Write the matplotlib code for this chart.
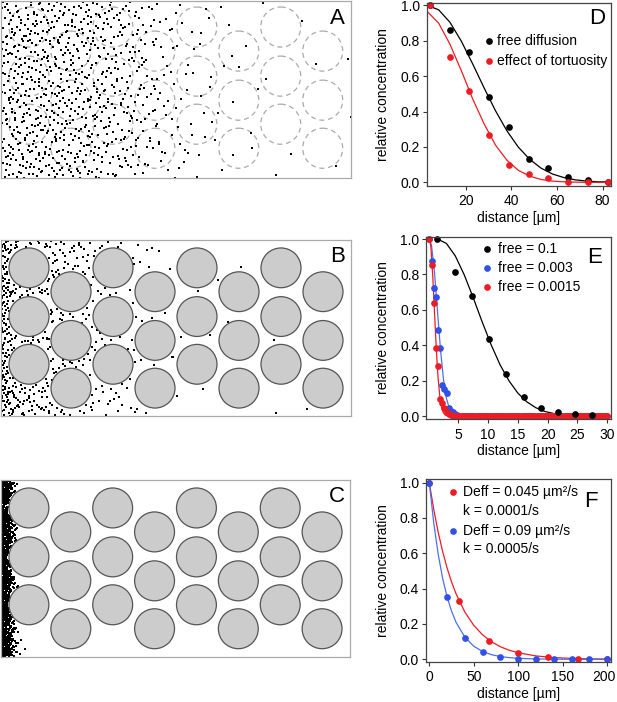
import numpy as np
import matplotlib
matplotlib.use('Agg')
import matplotlib.pyplot as plt
from matplotlib.patches import Circle
from matplotlib.transforms import Affine2D, ScaledTranslation

plt.rcParams['font.family'] = ['Liberation Sans', 'DejaVu Sans']

# ---------------- data ----------------
# obstacle lattice (pixel units inside each 350 x 177 box)
col_x = [28, 70, 112, 154, 196, 238, 280, 322]
rows_odd = [28, 77, 125]
rows_even = [52, 101, 149]
obst_r = 20

densA_x = [0, 50, 90, 120, 140, 160, 180, 200, 220, 240, 270, 350]
densA_v = [34, 32, 28, 22, 16, 10, 6, 4, 2.5, 1.2, 0.6, 0.3]
densB_x = [0, 6, 15, 40, 70, 100, 125, 150, 170, 200, 230, 350]
densB_v = [120, 80, 50, 38, 28, 18, 11, 6, 3, 1.5, 0.5, 0.1]
densC_x = [0, 3, 6, 9, 12, 15, 18, 22, 25]
densC_v = [600, 600, 520, 380, 200, 70, 20, 3, 0]

# panel D
d_x = [4.0, 12.9, 21.5, 30.1, 38.9, 47.6, 56.2, 65.0, 73.7, 82.3]
d_free = [1.0, 0.862, 0.738, 0.483, 0.311, 0.130, 0.079, 0.030, 0.015, 0.004]
d_tort = [1.0, 0.709, 0.515, 0.268, 0.098, 0.045, 0.025, 0.0, 0.0, 0.0]
d_curve_x = [3, 8, 13, 18, 23, 28, 33, 38, 43, 48, 53, 58, 63, 68, 73, 78, 83]
d_free_fit = [1.0, 0.975, 0.904, 0.797, 0.668, 0.533, 0.404, 0.291, 0.199,
              0.130, 0.080, 0.047, 0.027, 0.014, 0.007, 0.003, 0.002]
d_tort_fit = [0.965, 0.90, 0.78, 0.63, 0.47, 0.33, 0.21, 0.125, 0.068,
              0.035, 0.016, 0.007, 0.003, 0.001, 0.0, 0.0, 0.0]

# panel E
e_black_x = [1.48, 4.44, 7.29, 10.14, 13.05, 15.96, 18.8, 21.77, 24.6, 27.5]
e_black_y = [1.0, 0.815, 0.676, 0.433, 0.237, 0.105, 0.043, 0.024, 0.013, 0.008]
e_black_fit_x = [1.5, 3, 4.5, 6, 7.5, 9, 10.5, 12, 13.5, 15, 16.5, 18, 19.5,
                 21, 22.5, 24, 25.5, 27, 28.5, 30]
e_black_fit_y = [1.0, 0.975, 0.904, 0.797, 0.668, 0.532, 0.403, 0.290, 0.199,
                 0.129, 0.080, 0.047, 0.026, 0.014, 0.007, 0.004, 0.002, 0.001,
                 0.0005, 0.0]
e_step = 0.36
e_n = 84
e_grid = [round(0.14 + e_step * i, 3) for i in range(e_n)]
e_blue_head = [1.0, 0.876, 0.721, 0.674, 0.486, 0.386, 0.175, 0.153, 0.132,
               0.043, 0.028, 0.024, 0.01, 0.004]
e_red_head = [1.0, 0.853, 0.636, 0.382, 0.284, 0.094, 0.072, 0.043, 0.020,
              0.010, 0.003]
e_blue_y = e_blue_head + [0.0] * (e_n - len(e_blue_head))
e_red_y = e_red_head + [0.0] * (e_n - len(e_red_head))
e_blue_fit_x = [0.14, 0.5, 1.0, 1.5, 2.0, 2.5, 3.0, 3.5, 4.0, 4.5, 5.0, 6.0, 30.0]
e_blue_fit_y = [1.0, 0.964, 0.812, 0.594, 0.378, 0.209, 0.100, 0.042, 0.015,
                0.005, 0.001, 0.0, 0.0]
e_red_fit_x = [0.14, 0.4, 0.7, 1.0, 1.3, 1.6, 1.9, 2.2, 2.5, 2.8, 3.1, 3.5, 30.0]
e_red_fit_y = [1.0, 0.953, 0.798, 0.588, 0.381, 0.216, 0.108, 0.047, 0.018,
               0.006, 0.002, 0.0, 0.0]

# panel F
f_red_x = [0, 33.3, 66.7, 100, 133.3, 166.7, 200]
f_red_y = [1.0, 0.332, 0.104, 0.034, 0.013, 0.004, 0.001]
f_blue_x = [0, 20, 40, 60, 80, 100, 120, 140, 160, 180, 200]
f_blue_y = [1.0, 0.353, 0.123, 0.043, 0.013, 0.004, 0.001, 0.0, 0.0, 0.0, 0.0]
f_red_fit_x = [0, 5, 10, 15, 20, 25, 30, 40, 50, 60, 70, 80, 90, 100, 120, 140,
               160, 180, 200]
f_red_fit_y = [1.0, 0.848, 0.719, 0.61, 0.517, 0.438, 0.372, 0.267, 0.192,
               0.138, 0.099, 0.071, 0.051, 0.037, 0.019, 0.0098, 0.005, 0.0026,
               0.0014]
f_blue_fit_x = [0, 5, 10, 15, 20, 25, 30, 40, 50, 60, 70, 80, 90, 100, 120, 140,
                160, 200]
f_blue_fit_y = [1.0, 0.771, 0.595, 0.458, 0.353, 0.273, 0.210, 0.125, 0.074,
                0.044, 0.026, 0.0156, 0.0093, 0.0055, 0.002, 0.0007, 0.0002, 0.0]

RED = '#ec1c24'
BLUE = '#3050e8'
BLUE_LINE = '#4d6ef0'

# ---------------- figure ----------------
W, H = 617, 702
fig = plt.figure(figsize=(W / 100, H / 100), dpi=100)
PX = Affine2D().scale(1 / W, -1 / H).translate(0, 1) + fig.transFigure


def add_axes_px(x0, y0, x1, y1):
    return fig.add_axes([x0 / W, 1 - y1 / H, (x1 - x0) / W, (y1 - y0) / H])


def halton(idx, base):
    k = np.asarray(idx, dtype=np.int64).copy()
    r = np.zeros(len(k))
    f = 1.0
    while k.max() > 0:
        f /= base
        r += f * (k % base)
        k //= base
    return r


obst = [(cx, cy) for i, cx in enumerate(col_x)
        for cy in (rows_odd if i % 2 == 0 else rows_even)]


def particles(xmax, dx, dv, with_obst, offset):
    area = xmax * 177
    n = int(max(dv) * area / 1000)
    idx = offset + 1 + np.arange(n) * 409
    hx = halton(idx, 2) * xmax
    hy = halton(idx, 3) * 177
    hu = halton(idx, 5)
    keep = hu < np.interp(hx, dx, dv) / max(dv)
    hx, hy = hx[keep], hy[keep]
    if with_obst:
        ok = np.ones(len(hx), bool)
        for cx, cy in obst:
            ok &= (hx - cx) ** 2 + (hy - cy) ** 2 > (obst_r + 1) ** 2
        hx, hy = hx[ok], hy[ok]
    return hx, hy


def left_panel(box, kind, letter, dens, xmax, offset):
    ax = add_axes_px(*box)
    ax.set_xlim(0, 350)
    ax.set_ylim(177, 0)
    ax.set_xticks([])
    ax.set_yticks([])
    for s in ax.spines.values():
        s.set_color('#aaaaaa')
        s.set_linewidth(0.9)
    dy = -2 if kind == 'A' else 0
    for cx, cy in obst:
        if kind == 'A':
            ax.add_patch(Circle((cx, cy + dy), obst_r, fill=False,
                                edgecolor='#aaaaaa', lw=0.9,
                                linestyle=(0, (4, 3)), zorder=1))
        else:
            ax.add_patch(Circle((cx, cy), obst_r, facecolor='#cccccc',
                                edgecolor='#555555', lw=0.9, zorder=3))
    px, py = particles(xmax, dens[0], dens[1], kind != 'A', offset)
    ax.scatter(px, py, s=2.0, marker='s', c='black', linewidths=0, zorder=2)
    fig.text(box[2] - 13.5, box[1] + 17, letter, transform=PX, fontsize=16,
             ha='center', va='center')
    return ax


left_panel((1, 1, 350.7, 178.3), 'A', 'A', (densA_x, densA_v), 350, 7)
left_panel((1, 240, 351, 416), 'B', 'B', (densB_x, densB_v), 350, 1234)
left_panel((1, 480, 350, 656.7), 'C', 'C', (densC_x, densC_v), 25, 555)


def right_axes(box, xlim, ylim, xticks):
    ax = add_axes_px(*box)
    ax.set_xlim(*xlim)
    ax.set_ylim(*ylim)
    ax.set_xticks(xticks)
    ax.set_xticklabels([str(t) for t in xticks])
    ax.set_yticks([0, 0.2, 0.4, 0.6, 0.8, 1.0])
    ax.set_yticklabels(['0.0', '0.2', '0.4', '0.6', '0.8', '1.0'])
    ax.tick_params(direction='out', length=3, width=0.8, color='#333333',
                   labelsize=10, pad=2)
    ax.tick_params(axis='x', pad=3)
    for s in ax.spines.values():
        s.set_color('#444444')
        s.set_linewidth(0.9)
    cx = (box[0] + box[2]) / 2
    cy = (box[1] + box[3]) / 2
    fig.text(383, cy, 'relative concentration', transform=PX, rotation=90,
             fontsize=10, ha='center', va='center')
    fig.text(cx, box[3] + 32, 'distance [µm]', transform=PX, fontsize=10,
             ha='center', va='center')
    return ax


MS = 3.8
LW = 0.9

# D
axD = right_axes((427, 2.7, 611, 185.7), (2.9, 83.7), (-0.019, 1.015),
                 [20, 40, 60, 80])
axD.plot(d_curve_x, d_free_fit, color='black', lw=LW)
axD.plot(d_curve_x, d_tort_fit, color=RED, lw=LW)
axD.plot(d_x, d_free, 'o', color='black', ms=MS, clip_on=False)
axD.plot(d_x, d_tort, 'o', color=RED, ms=MS, clip_on=False)

# E
axE = right_axes((426.5, 236.7, 610.5, 419.3), (-0.34, 30.54), (-0.0186, 1.013),
                 [5, 10, 15, 20, 25, 30])
axE.plot(e_black_fit_x, e_black_fit_y, color='black', lw=LW)
axE.plot(e_blue_fit_x, e_blue_fit_y, color=BLUE_LINE, lw=LW)
axE.plot(e_red_fit_x, e_red_fit_y, color=RED, lw=LW)
axE.plot(e_grid, e_blue_y, 'o', color=BLUE, ms=MS, clip_on=False)
axE.plot(e_grid, e_red_y, 'o', color=RED, ms=MS, clip_on=False)
axE.plot(e_black_x, e_black_y, 'o', color='black', ms=MS, clip_on=False)

# F
axF = right_axes((425.7, 479.3, 610.7, 661.7), (-4.06, 204), (-0.0136, 1.019),
                 [0, 50, 100, 150, 200])
axF.plot(f_red_fit_x, f_red_fit_y, color=RED, lw=LW)
axF.plot(f_blue_fit_x, f_blue_fit_y, color=BLUE_LINE, lw=LW)
axF.plot(f_red_x, f_red_y, 'o', color=RED, ms=MS, clip_on=False)
axF.plot(f_blue_x, f_blue_y, 'o', color=BLUE, ms=MS, clip_on=False)
lab200 = axF.get_xticklabels()[-1]
lab200.set_transform(lab200.get_transform() +
                     ScaledTranslation(-2.5 / 72, 0, fig.dpi_scale_trans))


# legends / letters (drawn in reference pixel coordinates)
def legend_entry(x_dot, x_txt, y, color, text):
    fig.lines.append(plt.Line2D([x_dot], [y], marker='o', color=color, ms=MS,
                                transform=PX, linestyle='none'))
    fig.text(x_txt, y, text, transform=PX, fontsize=10, ha='left', va='center')


legend_entry(489.3, 497.3, 40.7, 'black', 'free diffusion')
legend_entry(489.3, 497.3, 61.0, RED, 'effect of tortuosity')
legend_entry(487.3, 498.3, 249.3, 'black', 'free = 0.1')
legend_entry(487.3, 498.3, 267.7, BLUE, 'free = 0.003')
legend_entry(487.3, 498.3, 286.7, RED, 'free = 0.0015')
legend_entry(453.3, 462.7, 492.3, RED, 'Deff = 0.045 µm²/s')
fig.text(462.7, 510.7, 'k = 0.0001/s', transform=PX, fontsize=10, ha='left',
         va='center')
legend_entry(453.3, 462.7, 530.7, BLUE, 'Deff = 0.09 µm²/s')
fig.text(462.7, 549.3, 'k = 0.0005/s', transform=PX, fontsize=10, ha='left',
         va='center')

for (lx, ly, t) in [(596.7, 18.3, 'D'), (594.3, 257.3, 'E'), (591, 501.7, 'F')]:
    fig.text(lx, ly, t, transform=PX, fontsize=16, ha='center', va='center')

fig.savefig('out.png', dpi=100)
